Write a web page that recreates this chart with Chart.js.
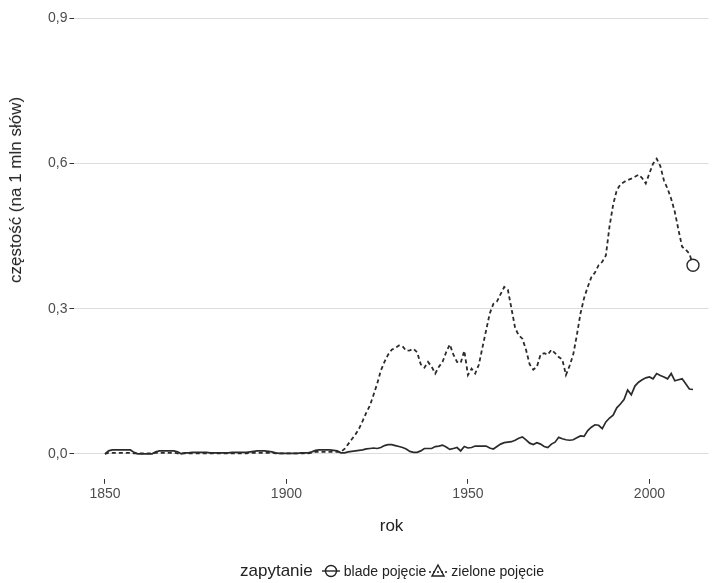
<!DOCTYPE html>
<html>
<head>
<meta charset="utf-8">
<script src="https://cdn.jsdelivr.net/npm/chart.js@4"></script>
<style>
  body { margin: 0; background: #fff; font-family: "Liberation Sans", Arial, sans-serif; }
  #wrap { position: relative; width: 716px; height: 583px; }
  #ytitle {
    position: absolute; left: 16px; top: 190px; color: #222; font-size: 17px;
    transform: translate(-50%, -50%) rotate(-90deg); white-space: nowrap;
  }
  #legend {
    position: absolute; left: 240px; top: 561px; display: flex; align-items: center;
    color: #222; font-size: 14px; white-space: nowrap;
  }
  #legend .ttl { font-size: 17px; margin-right: 6px; }
  #legend svg { margin: 0 3px 0 2px; }
</style>
</head>
<body>
<div id="wrap">
  <canvas id="chart" width="716" height="583"></canvas>
  <div id="ytitle">częstość (na 1 mln słów)</div>
  <div id="legend">
    <span class="ttl">zapytanie</span>
    <svg width="20" height="16"><line x1="1" y1="8" x2="19" y2="8" stroke="#222" stroke-width="1.4"/><circle cx="10" cy="8" r="5.5" fill="none" stroke="#222" stroke-width="1.4"/></svg>
    <span>blade pojęcie</span>
    <svg width="20" height="16"><line x1="1" y1="9" x2="19" y2="9" stroke="#222" stroke-width="1.4" stroke-dasharray="2,2"/><polygon points="10,2 16,13 4,13" fill="none" stroke="#222" stroke-width="1.4"/></svg>
    <span>zielone pojęcie</span>
  </div>
</div>
<script>
const firstYear = 1850
const lastYear = 2012
const years = []
for (let y = firstYear; y <= lastYear; y++) years.push(y)

// solid line
const bladeValues = [
  0, 0.006, 0.008, 0.008, 0.008, 0.008, 0.008, 0.008, 0.003, 0,
  0, 0, 0, 0, 0.004, 0.006, 0.006, 0.006, 0.006, 0.006,
  0.004, 0, 0.002, 0.002, 0.003, 0.003, 0.003, 0.003, 0.003, 0.002,
  0.002, 0.002, 0.002, 0.002, 0.002, 0.003, 0.003, 0.003, 0.003, 0.003,
  0.004, 0.005, 0.006, 0.006, 0.006, 0.005, 0.004, 0.002, 0.001, 0.001,
  0.001, 0.001, 0.001, 0.001, 0.002, 0.002, 0.002, 0.004, 0.007, 0.008,
  0.008, 0.008, 0.008, 0.007, 0.006, 0.002, 0.002, 0.004, 0.005, 0.006,
  0.007, 0.008, 0.01, 0.011, 0.012, 0.011, 0.013, 0.017, 0.019, 0.019,
  0.017, 0.015, 0.013, 0.01, 0.005, 0.003, 0.003, 0.006, 0.011, 0.011,
  0.011, 0.015, 0.016, 0.018, 0.014, 0.009, 0.011, 0.013, 0.006, 0.015,
  0.012, 0.013, 0.016, 0.016, 0.016, 0.016, 0.012, 0.01, 0.015, 0.02,
  0.023, 0.024, 0.025, 0.028, 0.032, 0.035, 0.029, 0.022, 0.019, 0.023,
  0.02, 0.015, 0.013, 0.02, 0.024, 0.034, 0.031, 0.029, 0.028, 0.029,
  0.033, 0.037, 0.036, 0.048, 0.055, 0.06, 0.059, 0.052, 0.066, 0.074,
  0.08, 0.095, 0.103, 0.112, 0.132, 0.122, 0.14, 0.148, 0.153, 0.157,
  0.159, 0.155, 0.166, 0.162, 0.159, 0.155, 0.166, 0.151, 0.153, 0.155,
  0.145, 0.134, 0.133
]

// dashed line
const zieloneValues = [
  0, 0.002, 0.002, 0.002, 0.002, 0.002, 0.002, 0.002, 0.001, 0.001,
  0.001, 0.001, 0.001, 0.001, 0.002, 0.002, 0.002, 0.002, 0.002, 0.002,
  0.001, 0.001, 0.001, 0.001, 0.001, 0.001, 0.001, 0.001, 0.001, 0.001,
  0.001, 0.001, 0.001, 0.001, 0.001, 0.001, 0.001, 0.001, 0.001, 0.001,
  0.002, 0.002, 0.002, 0.002, 0.002, 0.002, 0.002, 0.001, 0.001, 0.001,
  0.001, 0.001, 0.001, 0.001, 0.001, 0.001, 0.001, 0.002, 0.004, 0.004,
  0.004, 0.004, 0.004, 0.004, 0.004, 0.004, 0.01, 0.02, 0.03, 0.04,
  0.052, 0.068, 0.085, 0.1, 0.122, 0.145, 0.172, 0.19, 0.205, 0.215,
  0.219, 0.224, 0.222, 0.213, 0.214, 0.217, 0.21, 0.185, 0.178, 0.19,
  0.18, 0.166, 0.18, 0.19, 0.21, 0.226, 0.205, 0.19, 0.188, 0.213,
  0.163, 0.176, 0.166, 0.184, 0.22, 0.255, 0.29, 0.31, 0.315, 0.33,
  0.345, 0.339, 0.3, 0.26, 0.245, 0.238, 0.215, 0.185, 0.174, 0.18,
  0.205, 0.208, 0.205, 0.215, 0.208, 0.2, 0.195, 0.163, 0.182, 0.205,
  0.245, 0.29, 0.322, 0.345, 0.365, 0.375, 0.39, 0.397, 0.41, 0.47,
  0.515, 0.545, 0.557, 0.562, 0.566, 0.569, 0.573, 0.577, 0.57, 0.559,
  0.58, 0.6, 0.61, 0.595, 0.565, 0.548, 0.527, 0.5, 0.463, 0.428,
  0.422, 0.414, 0.39
]

const xTicks = [1850, 1900, 1950, 2000]
const yTicks = [0, 0.3, 0.6, 0.9]

const toPoints = vals => vals.map((v, i) => ({ x: years[i], y: v }))
const lastIdx = years.length - 1

const data = {
  datasets: [
    {
      label: 'blade pojęcie',
      data: toPoints(bladeValues),
      borderColor: '#2b2b2b',
      borderWidth: 1.7,
      pointRadius: 0,
      tension: 0
    },
    {
      label: 'zielone pojęcie',
      data: toPoints(zieloneValues),
      borderColor: '#2b2b2b',
      borderWidth: 1.8,
      borderDash: [4, 3],
      pointRadius: ctx => ctx.dataIndex === lastIdx ? 6 : 0,
      pointBorderWidth: 1.4,
      pointBorderColor: '#2b2b2b',
      pointBackgroundColor: '#ffffff',
      tension: 0
    }
  ]
}

const tickFont = { family: '"Liberation Sans", Arial, sans-serif', size: 14 }

const config = {
  type: 'line',
  data,
  options: {
    responsive: false,
    animation: false,
    layout: { padding: { left: 46, right: 0, top: 0, bottom: 46 } },
    plugins: { legend: { display: false }, tooltip: { enabled: false } },
    scales: {
      x: {
        type: 'linear',
        min: 1841.6,
        max: 2016.3,
        afterBuildTicks: axis => { axis.ticks = xTicks.map(v => ({ value: v })) },
        ticks: { color: '#4d4d4d', font: tickFont, padding: 2, maxRotation: 0, callback: v => String(v) },
        grid: { drawOnChartArea: false, tickLength: 5, tickColor: '#333', tickWidth: 1 },
        border: { display: false },
        title: {
          display: true, text: 'rok', color: '#222',
          font: { family: '"Liberation Sans", Arial, sans-serif', size: 17 },
          padding: { top: 12, bottom: 0 }
        }
      },
      y: {
        min: -0.0517,
        max: 0.9168,
        afterBuildTicks: axis => { axis.ticks = yTicks.map(v => ({ value: v })) },
        ticks: {
          color: '#4d4d4d', font: tickFont, padding: 2,
          callback: v => v.toFixed(1).replace('.', ',')
        },
        grid: { color: '#dcdcdc', lineWidth: 1, tickLength: 5, tickColor: '#333' },
        border: { display: false }
      }
    }
  }
}

new Chart(document.getElementById('chart').getContext('2d'), config)
</script>
</body>
</html>
